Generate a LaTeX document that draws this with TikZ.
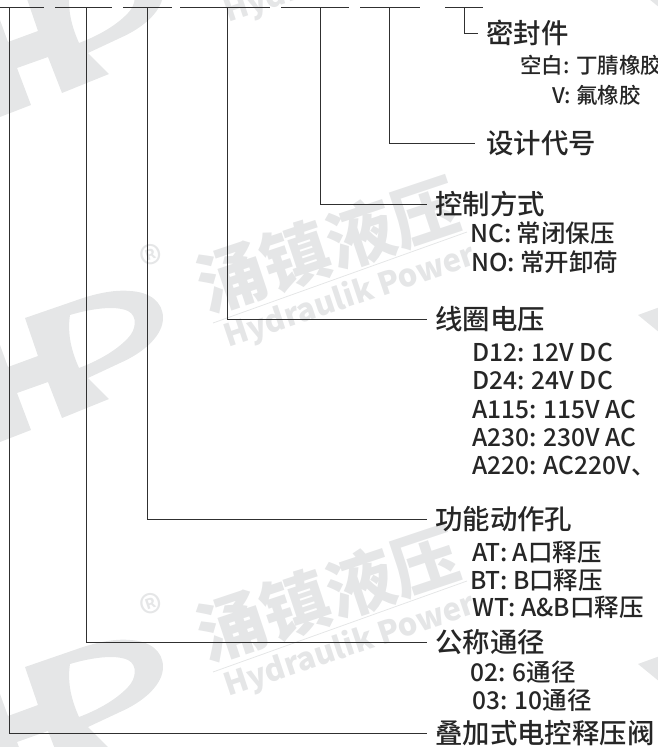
\documentclass[tikz,border=0pt]{standalone}
\usepackage{fontspec}
\setmainfont{Noto Sans CJK SC}[UprightFont=* Medium, BoldFont=* Bold]
\newfontfamily\wmfont{Noto Sans CJK SC}
\usetikzlibrary{positioning}
\definecolor{wmgray}{HTML}{E5E6E7}
\definecolor{linegray}{HTML}{303030}
\newcommand{\hdfont}{\fontsize{27.4}{30}\selectfont}
\newcommand{\optfont}{\fontsize{24.5}{28}\selectfont}
\newcommand{\sealfont}{\fontsize{21.5}{26}\selectfont}

\tikzset{
    hd/.style={anchor=west, inner xsep=8pt, inner ysep=0pt, font=\hdfont, text=black!85},
    opt/.style={anchor=west, inner sep=0pt, font=\optfont, text=black!85},
    lead/.style={draw=linegray, line width=0.9pt},
    wm/.style={text=wmgray, inner sep=0pt, rotate=18.5}
}

\begin{document}
\begin{tikzpicture}[x=1pt, y=-1pt, node distance=28.5pt, on grid]
    \useasboundingbox (0,0) rectangle (658,747);

    % watermark
    \begin{scope}
        \clip (0,0) rectangle (658,747);
        \foreach \dy in {-325,0,349} {
            \begin{scope}[shift={(0,\dy)}]
                \fill[wmgray, even odd rule]
                (0,345) -- (8,367) -- (38,356) -- (25,318) -- (83,298)
                .. controls (105,291) and (120,290) .. (130,291)
                .. controls (150,292) and (163,302) .. (163,318)
                .. controls (163,335) and (145,352) .. (120,363)
                -- (88,378) -- (109,399) -- (62,418) -- (48,382) -- (17,393) -- (31,430) -- (0,442) -- cycle
                (70,315) .. controls (90,309) and (115,305) .. (128,311)
                .. controls (138,316) and (136,330) .. (128,338)
                .. controls (115,352) and (95,362) .. (79,368)
                .. controls (72,352) and (67,335) .. (70,315) -- cycle;
                \fill[wmgray] (638,315) -- (660,307) -- (660,333) -- cycle;
                \node[wm, font=\wmfont\bfseries\fontsize{68}{70}\selectfont] (wmcn\dy) at (328,245) {涌镇液压};
                \node[wm, font=\wmfont\bfseries\fontsize{31}{36}\selectfont] (wmen\dy) at (350,297) {Hydraulik Power};
                \node[wm, font=\fontsize{46}{48}\selectfont] (wmreg\dy) at (153,262) {®};
                \draw[wmgray, line width=0.8pt] (213,323) -- (467,232);
            \end{scope}
        }
    \end{scope}

    % top row
    \foreach \xa/\xb in {0/44, 55/112, 123/172, 180/270, 281/349, 360/420, 445/483}
        \draw[lead] (\xa,7) -- (\xb,7);

    \coordinate (t1) at (9.5,7);
    \coordinate (t2) at (86,7);
    \coordinate (t3) at (147,7);
    \coordinate (t4) at (227,7);
    \coordinate (t5) at (320,7);
    \coordinate (t6) at (389,7);
    \coordinate (t7) at (464,7);

    \node[hd] (seal) at (478,33) {密封件};
    \node[opt, font=\sealfont] (sealA) at (520,65) {空白: 丁腈橡胶};
    \node[opt, font=\sealfont] (sealB) at (552,95) {V: 氟橡胶};

    \node[hd, inner xsep=11pt] (design) at (475,143) {设计代号};

    \node[hd] (ctrl) at (427,204) {控制方式};
    \node[opt] (ctrlA) at (470,233) {NC: 常闭保压};
    \node[opt] (ctrlB) at (471,262) {NO: 常开卸荷};

    \node[hd] (coil) at (427,319) {线圈电压};
    \node[opt] (coilA) at (472,352) {D12: 12V DC};
    \node[opt, below=of coilA.west, anchor=west] (coilB) {D24: 24V DC};
    \node[opt, below=of coilB.west, anchor=west] (coilC) {A115: 115V AC};
    \node[opt, below=of coilC.west, anchor=west] (coilD) {A230: 230V AC};
    \node[opt, below=of coilD.west, anchor=west] (coilE) {A220: AC220V、};

    \node[hd] (func) at (427,519) {功能动作孔};
    \node[opt] (funcA) at (472,552) {AT: A口释压};
    \node[opt] (funcB) at (470,580) {BT: B口释压};
    \node[opt] (funcC) at (472,607) {WT: A\&B口释压};

    \node[hd] (size) at (427,642) {公称通径};
    \node[opt] (sizeA) at (470,672) {02: 6通径};
    \node[opt] (sizeB) at (472,700) {03: 10通径};

    \node[hd] (valve) at (427,733) {叠加式电控释压阀};

    \draw[lead] (t7) |- (seal);
    \draw[lead] (t6) |- (design);
    \draw[lead] (t5) |- (ctrl);
    \draw[lead] (t4) |- (coil);
    \draw[lead] (t3) |- (func);
    \draw[lead] (t2) |- (size);
    \draw[lead] (t1) |- (valve);
\end{tikzpicture}
\end{document}
